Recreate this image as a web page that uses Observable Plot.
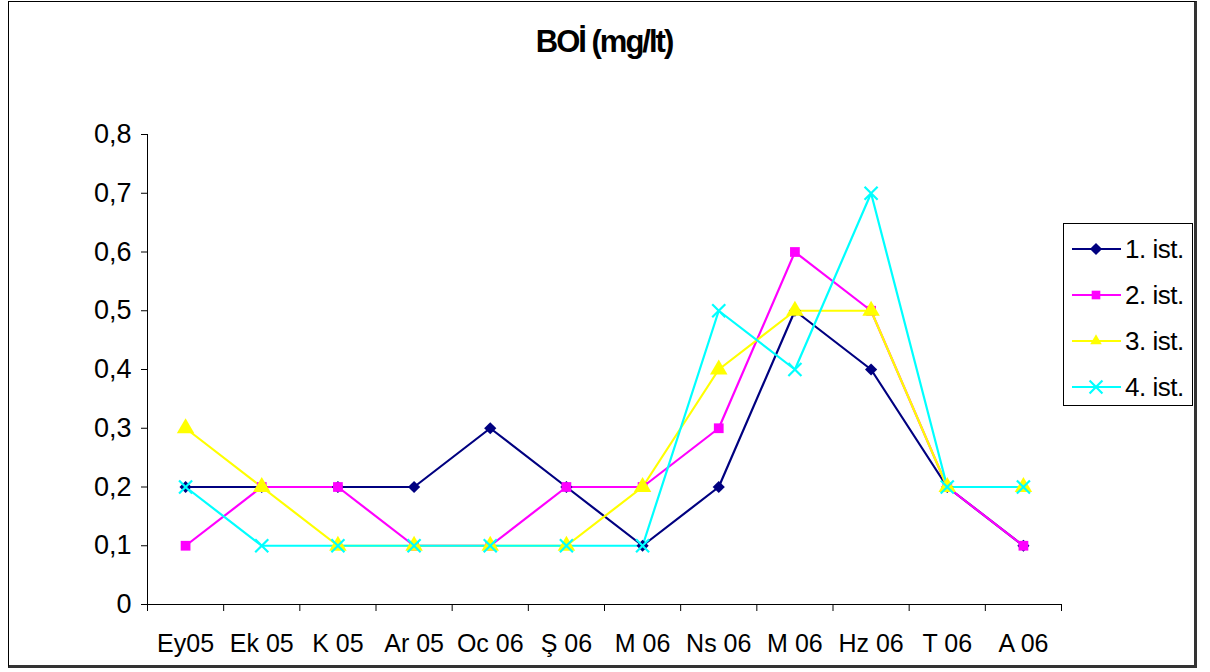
<!DOCTYPE html>
<html>
<head>
<meta charset="utf-8">
<script src="https://cdn.jsdelivr.net/npm/d3@7"></script>
<script src="https://cdn.jsdelivr.net/npm/@observablehq/plot@0.6"></script>
<style>
  html, body { margin: 0; padding: 0; background: #fff; }
  #wrap { position: relative; width: 1210px; height: 672px; font-family: "Liberation Sans", Arial, sans-serif; }
  #frame { position: absolute; left: 8px; top: 1px; width: 1189px; height: 667px; border: 1px solid #000; border-right: 3px solid #333; border-bottom: 3px solid #333; box-sizing: border-box; pointer-events: none; }
  #title { position: absolute; left: 0; width: 1208px; top: 24px; text-align: center; font-weight: bold; font-size: 31px; letter-spacing: -2px; color: #000; }
  #chart { position: absolute; left: 0; top: 0; }
  #legend { position: absolute; left: 1063px; top: 223px; width: 130px; height: 183px; border: 1px solid #000; box-sizing: border-box; background: #fff; }
</style>
</head>
<body>
<div id="wrap">
  <div id="chart"></div>
  <div id="title">BOİ (mg/lt)</div>
  <div id="legend"></div>
  <div id="frame"></div>
</div>
<script>
const categories = ["Ey05", "Ek 05", "K 05", "Ar 05", "Oc 06", "Ş 06", "M 06", "Ns 06", "M 06", "Hz 06", "T 06", "A 06"];
const seriesNames = ["1. ist.", "2. ist.", "3. ist.", "4. ist."];
const ist1 = [0.2, 0.2, 0.2, 0.2, 0.3, 0.2, 0.1, 0.2, 0.5, 0.4, 0.2, 0.1];
const ist2 = [0.1, 0.2, 0.2, 0.1, 0.1, 0.2, 0.2, 0.3, 0.6, 0.5, 0.2, 0.1];
const ist3 = [0.3, 0.2, 0.1, 0.1, 0.1, 0.1, 0.2, 0.4, 0.5, 0.5, 0.2, 0.2];
const ist4 = [0.2, 0.1, 0.1, 0.1, 0.1, 0.1, 0.1, 0.5, 0.4, 0.7, 0.2, 0.2];
const yTicks = [0, 0.1, 0.2, 0.3, 0.4, 0.5, 0.6, 0.7, 0.8];
const colors = ["#000080", "#FF00FF", "#FFFF00", "#00FFFF"];
const symbols = ["diamond2", "square", "triangle", "times"];

const allSeries = [ist1, ist2, ist3, ist4];
const data = allSeries.flatMap((vals, s) => vals.map((v, i) => ({i, v, s: seriesNames[s]})));

const fmt = d => d === 0 ? "0" : d.toFixed(1).replace(".", ",");
const boundaries = d3.range(categories.length + 1).map(k => k - 0.5);

const marks = [
  Plot.ruleY([0], {stroke: "#000", strokeWidth: 1}),
  Plot.ruleX([-0.5], {stroke: "#000", strokeWidth: 1}),
  Plot.axisY({ticks: yTicks, tickFormat: fmt, tickSize: 6, tickPadding: 10, fontSize: 27, stroke: "#000", strokeOpacity: 1, label: null}),
  Plot.axisX({ticks: boundaries, tickFormat: () => "", tickSize: 7, stroke: "#000", strokeOpacity: 1, label: null}),
  Plot.axisX({ticks: d3.range(categories.length), tickFormat: i => categories[i], tickSize: 0, tickPadding: 30, fontSize: 25, label: null, style: {letterSpacing: "-1.5px"}})
];
allSeries.forEach((vals, s) => {
  const sd = data.filter(d => d.s === seriesNames[s]);
  marks.push(Plot.line(sd, {x: "i", y: "v", stroke: colors[s], strokeWidth: 2.2}));
});
allSeries.forEach((vals, s) => {
  const sd = data.filter(d => d.s === seriesNames[s]);
  if (symbols[s] === "times") {
    marks.push(Plot.dot(sd, {x: "i", y: "v", symbol: "times", r: 6, stroke: colors[s], strokeWidth: 2.2, fill: "none"}));
  } else {
    marks.push(Plot.dot(sd, {x: "i", y: "v", symbol: symbols[s], r: symbols[s] === "triangle" ? 6.5 : 5.5, fill: colors[s], stroke: "none"}));
  }
});

const plot = Plot.plot({
  width: 1210,
  height: 672,
  marginLeft: 147,
  marginRight: 149,
  marginTop: 134,
  marginBottom: 68,
  style: {fontFamily: "'Liberation Sans', Arial, sans-serif", color: "#000", background: "transparent"},
  x: {type: "linear", domain: [-0.5, categories.length - 0.5]},
  y: {domain: [0, 0.8]},
  marks
});
document.getElementById("chart").appendChild(plot);

// Legend
const leg = d3.select("#legend").append("svg").attr("width", 128).attr("height", 181);
seriesNames.forEach((name, s) => {
  const cy = 25 + s * 46;
  const g = leg.append("g");
  g.append("line").attr("x1", 8).attr("x2", 57).attr("y1", cy).attr("y2", cy).attr("stroke", colors[s]).attr("stroke-width", 2.2);
  const sym = d3.symbol().type({diamond2: d3.symbolDiamond2, square: d3.symbolSquare2, triangle: d3.symbolTriangle2, times: d3.symbolTimes}[symbols[s]]).size(symbols[s] === "times" ? 110 : 95);
  const p = g.append("path").attr("d", sym()).attr("transform", `translate(32,${cy})`);
  if (symbols[s] === "times") p.attr("fill", "none").attr("stroke", colors[s]).attr("stroke-width", 2.2);
  else p.attr("fill", colors[s]);
  g.append("text").attr("x", 61).attr("y", cy).attr("dy", "0.36em").attr("font-size", 26).attr("letter-spacing", "-0.5px").attr("font-family", "'Liberation Sans', Arial, sans-serif").text(name);
});
</script>
</body>
</html>
